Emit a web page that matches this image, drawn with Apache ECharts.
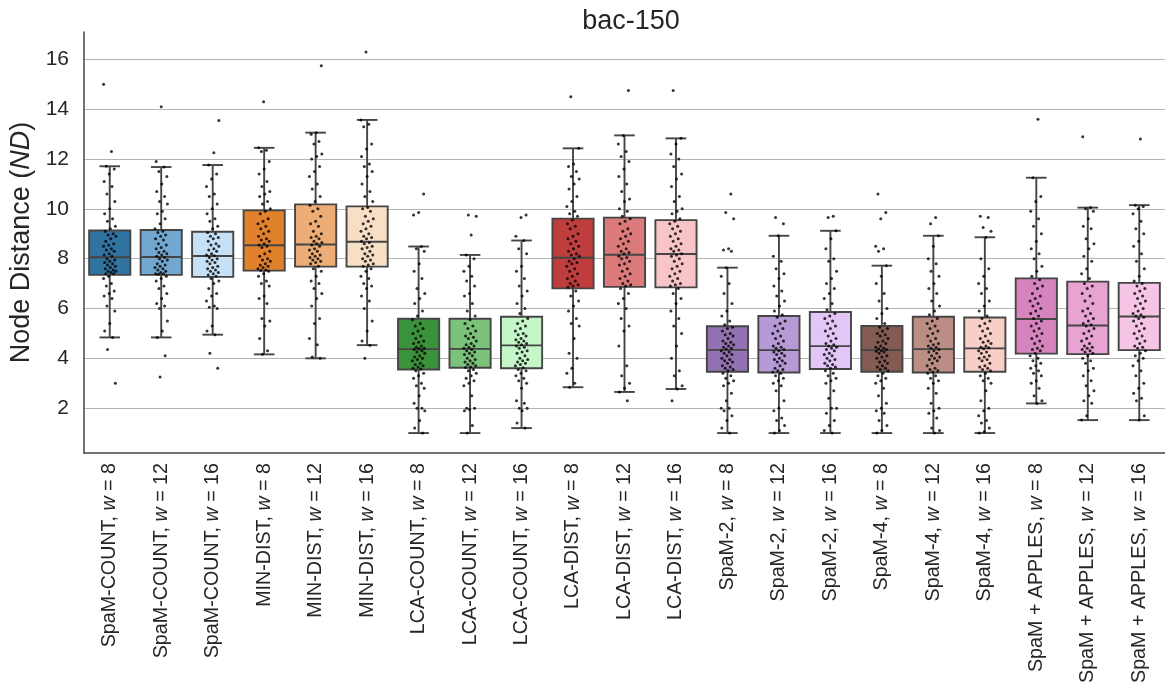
<!DOCTYPE html>
<html>
<head>
<meta charset="utf-8">
<title>bac-150</title>
<script src="https://cdn.jsdelivr.net/npm/echarts@6/dist/echarts.min.js"></script>
<style>
  html, body { margin: 0; padding: 0; background: #fff; }
  #chart { width: 1165px; height: 686px; }
</style>
</head>
<body>
<div id="chart"></div>
<script>
// categories (x axis)
const methods = [
  'SpaM-COUNT, w = 8', 'SpaM-COUNT, w = 12', 'SpaM-COUNT, w = 16',
  'MIN-DIST, w = 8', 'MIN-DIST, w = 12', 'MIN-DIST, w = 16',
  'LCA-COUNT, w = 8', 'LCA-COUNT, w = 12', 'LCA-COUNT, w = 16',
  'LCA-DIST, w = 8', 'LCA-DIST, w = 12', 'LCA-DIST, w = 16',
  'SpaM-2, w = 8', 'SpaM-2, w = 12', 'SpaM-2, w = 16',
  'SpaM-4, w = 8', 'SpaM-4, w = 12', 'SpaM-4, w = 16',
  'SpaM + APPLES, w = 8', 'SpaM + APPLES, w = 12', 'SpaM + APPLES, w = 16'
];

// box statistics
const whiskerLow  = [4.84, 4.84, 4.95, 4.16, 4.0, 4.53, 1.0, 1.0, 1.2, 2.84, 2.65, 2.77, 1.0, 1.0, 1.0, 1.0, 1.0, 1.0, 2.19, 1.52, 1.52];
const q1          = [7.35, 7.35, 7.27, 7.52, 7.68, 7.68, 3.55, 3.62, 3.6, 6.81, 6.87, 6.85, 3.46, 3.43, 3.57, 3.46, 3.43, 3.46, 4.19, 4.17, 4.33];
const median      = [8.06, 8.07, 8.11, 8.54, 8.57, 8.68, 4.37, 4.38, 4.52, 8.04, 8.16, 8.19, 4.34, 4.33, 4.49, 4.33, 4.37, 4.40, 5.58, 5.32, 5.68];
const q3          = [9.13, 9.15, 9.08, 9.94, 10.18, 10.10, 5.59, 5.59, 5.67, 9.61, 9.65, 9.55, 5.29, 5.70, 5.86, 5.30, 5.67, 5.64, 7.21, 7.08, 7.03];
const whiskerHigh = [11.71, 11.68, 11.76, 12.45, 13.06, 13.57, 8.49, 8.15, 8.73, 12.43, 12.95, 12.83, 7.64, 8.92, 9.12, 7.72, 8.92, 8.86, 11.25, 10.05, 10.15];

const boxColors = [
  '#3274a1', '#72a7d0', '#c6e1f6',
  '#e1812c', '#ecad76', '#f7dfc5',
  '#3a923a', '#7bc27a', '#c5f6c8',
  '#c03d3e', '#dc7a7b', '#f7c5c7',
  '#9372b2', '#b59ad6', '#e2c6f7',
  '#845b53', '#bc8d84', '#f7cfc7',
  '#d684bd', '#e7a4d3', '#f6c5e5'
];

const pointValues = [
  [15.0, 12.3, 11.71, 11.6, 11.4, 11.1, 10.9, 10.6, 10.3, 10.0, 9.8, 9.6, 9.5, 9.3, 9.2, 9.1, 9.0, 8.95, 8.9, 8.8, 8.7, 8.6, 8.55, 8.5, 8.4, 8.35, 8.3, 8.2, 8.15, 8.1, 8.0, 7.95, 7.9, 7.85, 7.8, 7.75, 7.7, 7.65, 7.6, 7.55, 7.5, 7.5, 7.45, 7.4, 7.4, 7.3, 7.2, 7.0, 6.9, 6.7, 6.6, 6.5, 6.4, 6.1, 5.9, 5.4, 5.1, 4.84, 4.35, 3.0],
  [14.1, 11.9, 11.68, 11.5, 11.3, 11.0, 10.7, 10.5, 10.3, 10.2, 9.9, 9.8, 9.6, 9.4, 9.2, 9.1, 9.05, 8.95, 8.9, 8.8, 8.75, 8.6, 8.55, 8.45, 8.4, 8.3, 8.25, 8.2, 8.15, 8.1, 8.05, 8.0, 7.95, 7.9, 7.8, 7.75, 7.7, 7.65, 7.6, 7.55, 7.5, 7.45, 7.4, 7.4, 7.38, 7.3, 7.2, 7.1, 6.9, 6.8, 6.6, 6.4, 6.2, 6.1, 6.0, 5.5, 5.1, 4.84, 4.1, 3.25],
  [13.55, 12.25, 11.76, 11.4, 11.2, 10.9, 10.6, 10.5, 10.2, 10.0, 9.8, 9.6, 9.5, 9.3, 9.2, 9.05, 9.0, 8.9, 8.85, 8.8, 8.7, 8.6, 8.55, 8.5, 8.4, 8.35, 8.3, 8.2, 8.15, 8.12, 8.05, 8.0, 7.95, 7.9, 7.85, 7.8, 7.7, 7.65, 7.6, 7.55, 7.5, 7.45, 7.4, 7.35, 7.3, 7.2, 7.1, 7.0, 6.8, 6.6, 6.5, 6.3, 6.1, 6.05, 6.0, 5.3, 5.1, 4.95, 4.2, 3.6],
  [14.3, 12.45, 12.35, 12.3, 11.9, 11.6, 11.4, 11.1, 10.9, 10.7, 10.6, 10.5, 10.3, 10.2, 10.0, 9.9, 9.8, 9.6, 9.5, 9.4, 9.3, 9.2, 9.1, 9.0, 8.9, 8.8, 8.75, 8.7, 8.6, 8.55, 8.5, 8.45, 8.3, 8.2, 8.1, 8.0, 7.95, 7.9, 7.8, 7.75, 7.7, 7.65, 7.6, 7.55, 7.53, 7.5, 7.4, 7.3, 7.1, 7.0, 6.9, 6.5, 6.4, 6.2, 5.6, 5.5, 5.3, 4.8, 4.3, 4.16],
  [15.75, 13.06, 13.0, 12.7, 12.6, 12.2, 12.1, 12.0, 11.7, 11.5, 11.3, 11.0, 10.8, 10.5, 10.3, 10.15, 10.0, 9.9, 9.7, 9.5, 9.4, 9.3, 9.1, 9.0, 8.9, 8.85, 8.8, 8.7, 8.65, 8.6, 8.55, 8.5, 8.4, 8.35, 8.3, 8.2, 8.15, 8.1, 8.05, 8.0, 7.95, 7.9, 7.85, 7.8, 7.7, 7.6, 7.5, 7.3, 7.1, 7.0, 6.8, 6.6, 6.4, 6.1, 5.6, 5.4, 4.8, 4.55, 4.05, 4.0],
  [16.3, 13.57, 13.4, 13.3, 12.6, 12.4, 12.1, 11.8, 11.7, 11.5, 11.3, 11.0, 10.7, 10.5, 10.3, 10.05, 10.0, 9.9, 9.7, 9.6, 9.5, 9.4, 9.3, 9.2, 9.1, 9.0, 8.9, 8.85, 8.8, 8.7, 8.65, 8.6, 8.5, 8.45, 8.4, 8.3, 8.2, 8.15, 8.1, 8.0, 7.95, 7.9, 7.8, 7.75, 7.7, 7.6, 7.5, 7.3, 7.2, 7.0, 6.9, 6.8, 6.5, 6.3, 6.0, 5.5, 5.1, 4.7, 4.53, 4.0],
  [10.6, 9.85, 9.75, 8.49, 8.4, 8.3, 7.8, 7.5, 7.2, 6.8, 6.6, 6.4, 6.2, 5.9, 5.7, 5.55, 5.4, 5.3, 5.2, 5.1, 5.0, 4.9, 4.8, 4.7, 4.65, 4.6, 4.5, 4.45, 4.4, 4.38, 4.35, 4.3, 4.25, 4.2, 4.1, 4.05, 4.0, 3.95, 3.9, 3.8, 3.75, 3.7, 3.65, 3.6, 3.57, 3.5, 3.4, 3.3, 3.2, 3.0, 2.9, 2.8, 2.5, 2.2, 2.0, 2.0, 1.9, 1.5, 1.2, 1.0],
  [9.75, 9.7, 8.95, 8.15, 8.0, 7.7, 7.5, 7.3, 7.1, 6.9, 6.6, 6.5, 6.2, 5.9, 5.7, 5.55, 5.4, 5.3, 5.2, 5.1, 5.0, 4.9, 4.85, 4.8, 4.7, 4.6, 4.55, 4.5, 4.45, 4.4, 4.35, 4.3, 4.25, 4.2, 4.15, 4.1, 4.0, 3.95, 3.9, 3.85, 3.8, 3.75, 3.7, 3.65, 3.63, 3.55, 3.5, 3.4, 3.3, 3.2, 3.1, 3.0, 2.9, 2.5, 2.0, 2.0, 1.95, 1.9, 1.3, 1.0],
  [9.75, 9.65, 8.9, 8.73, 8.4, 8.2, 7.7, 7.5, 7.2, 6.9, 6.7, 6.5, 6.2, 6.0, 5.8, 5.6, 5.5, 5.4, 5.3, 5.2, 5.1, 5.0, 4.95, 4.9, 4.8, 4.75, 4.7, 4.65, 4.6, 4.55, 4.5, 4.45, 4.4, 4.3, 4.25, 4.2, 4.1, 4.0, 3.95, 3.9, 3.85, 3.8, 3.75, 3.7, 3.62, 3.55, 3.5, 3.4, 3.3, 3.2, 3.1, 3.0, 2.8, 2.3, 2.2, 2.0, 2.0, 1.9, 1.4, 1.2],
  [14.5, 12.43, 11.8, 11.7, 11.5, 11.3, 11.2, 11.0, 10.8, 10.5, 10.3, 10.1, 9.9, 9.8, 9.7, 9.55, 9.4, 9.3, 9.2, 9.0, 8.9, 8.8, 8.7, 8.6, 8.5, 8.4, 8.3, 8.2, 8.15, 8.1, 8.0, 7.9, 7.85, 7.8, 7.7, 7.6, 7.5, 7.4, 7.3, 7.2, 7.1, 7.0, 6.95, 6.9, 6.85, 6.7, 6.5, 6.3, 6.1, 5.9, 5.6, 5.4, 5.3, 4.8, 4.2, 4.0, 3.6, 3.4, 3.0, 2.84],
  [14.75, 12.95, 12.6, 12.3, 12.1, 11.9, 11.6, 11.3, 11.0, 10.7, 10.4, 10.3, 10.0, 9.9, 9.7, 9.6, 9.5, 9.4, 9.2, 9.1, 9.0, 8.9, 8.8, 8.7, 8.6, 8.5, 8.4, 8.3, 8.25, 8.2, 8.1, 8.05, 8.0, 7.9, 7.8, 7.75, 7.6, 7.5, 7.4, 7.3, 7.2, 7.1, 7.0, 6.95, 6.9, 6.8, 6.6, 6.4, 6.2, 6.0, 5.6, 5.3, 5.1, 4.5, 3.7, 3.3, 3.0, 2.8, 2.65, 2.3],
  [14.75, 12.83, 12.6, 12.2, 12.0, 11.7, 11.4, 11.2, 10.9, 10.5, 10.3, 10.0, 9.9, 9.8, 9.6, 9.5, 9.4, 9.3, 9.2, 9.1, 9.0, 8.9, 8.8, 8.7, 8.6, 8.5, 8.4, 8.35, 8.3, 8.2, 8.15, 8.1, 8.0, 7.9, 7.8, 7.7, 7.6, 7.5, 7.4, 7.3, 7.2, 7.1, 7.0, 6.95, 6.9, 6.8, 6.6, 6.4, 6.2, 5.9, 5.6, 5.3, 5.0, 4.5, 4.0, 3.5, 3.3, 2.9, 2.77, 2.3],
  [10.6, 9.85, 9.6, 8.4, 8.35, 8.3, 7.64, 7.3, 7.0, 6.6, 6.2, 5.9, 5.7, 5.5, 5.35, 5.25, 5.2, 5.1, 5.0, 4.95, 4.9, 4.8, 4.7, 4.65, 4.6, 4.55, 4.5, 4.45, 4.4, 4.36, 4.3, 4.25, 4.2, 4.15, 4.1, 4.0, 3.95, 3.9, 3.85, 3.8, 3.7, 3.65, 3.6, 3.55, 3.5, 3.4, 3.3, 3.2, 3.1, 3.0, 2.9, 2.6, 2.3, 2.0, 2.0, 1.9, 1.7, 1.5, 1.2, 1.0],
  [9.65, 9.4, 8.92, 8.1, 7.9, 7.6, 7.4, 7.2, 6.9, 6.7, 6.5, 6.3, 6.1, 5.9, 5.75, 5.65, 5.5, 5.4, 5.3, 5.2, 5.1, 5.0, 4.9, 4.8, 4.7, 4.6, 4.5, 4.45, 4.4, 4.35, 4.3, 4.25, 4.2, 4.15, 4.1, 4.0, 3.95, 3.9, 3.85, 3.8, 3.7, 3.6, 3.55, 3.5, 3.45, 3.4, 3.3, 3.2, 3.1, 3.0, 2.9, 2.7, 2.3, 2.0, 1.9, 1.6, 1.5, 1.3, 1.1, 1.0],
  [9.7, 9.65, 9.12, 8.8, 8.4, 8.0, 7.9, 7.5, 7.2, 7.0, 6.8, 6.6, 6.4, 6.2, 5.95, 5.8, 5.7, 5.6, 5.5, 5.4, 5.3, 5.2, 5.1, 5.0, 4.9, 4.8, 4.7, 4.6, 4.55, 4.5, 4.45, 4.4, 4.35, 4.3, 4.2, 4.15, 4.1, 4.0, 3.95, 3.9, 3.8, 3.75, 3.7, 3.65, 3.6, 3.5, 3.4, 3.3, 3.2, 3.1, 3.0, 2.7, 2.4, 2.0, 2.0, 1.8, 1.5, 1.3, 1.1, 1.0],
  [10.6, 9.85, 9.6, 8.5, 8.4, 8.3, 7.72, 7.3, 7.0, 6.6, 6.3, 6.0, 5.8, 5.6, 5.4, 5.25, 5.2, 5.1, 5.0, 4.95, 4.9, 4.8, 4.7, 4.65, 4.6, 4.5, 4.45, 4.4, 4.38, 4.35, 4.3, 4.28, 4.25, 4.2, 4.1, 4.05, 4.0, 3.9, 3.85, 3.8, 3.7, 3.65, 3.6, 3.55, 3.5, 3.4, 3.3, 3.2, 3.1, 3.0, 2.8, 2.5, 2.2, 2.0, 1.9, 1.8, 1.5, 1.3, 1.1, 1.0],
  [9.65, 9.4, 8.92, 8.5, 8.0, 7.8, 7.5, 7.3, 7.0, 6.8, 6.6, 6.3, 6.1, 5.9, 5.75, 5.6, 5.5, 5.4, 5.3, 5.2, 5.1, 5.0, 4.9, 4.8, 4.7, 4.6, 4.55, 4.5, 4.45, 4.4, 4.35, 4.3, 4.25, 4.2, 4.1, 4.05, 4.0, 3.95, 3.9, 3.8, 3.7, 3.6, 3.55, 3.5, 3.45, 3.4, 3.3, 3.2, 3.1, 3.0, 2.8, 2.6, 2.2, 2.0, 1.9, 1.8, 1.6, 1.2, 1.1, 1.0],
  [9.7, 9.65, 9.25, 9.1, 8.86, 8.0, 7.6, 7.3, 7.0, 6.8, 6.6, 6.3, 6.1, 5.9, 5.7, 5.6, 5.5, 5.4, 5.3, 5.2, 5.1, 5.0, 4.9, 4.8, 4.7, 4.65, 4.6, 4.5, 4.45, 4.42, 4.38, 4.3, 4.25, 4.2, 4.1, 4.05, 4.0, 3.95, 3.9, 3.8, 3.7, 3.65, 3.6, 3.55, 3.5, 3.4, 3.3, 3.2, 3.1, 3.0, 2.7, 2.3, 2.0, 1.9, 1.7, 1.5, 1.4, 1.2, 1.05, 1.0],
  [13.6, 11.25, 10.5, 10.3, 9.9, 9.6, 9.3, 9.0, 8.7, 8.4, 8.2, 8.0, 7.7, 7.5, 7.3, 7.15, 7.0, 6.9, 6.8, 6.6, 6.5, 6.4, 6.3, 6.2, 6.1, 6.0, 5.9, 5.8, 5.7, 5.6, 5.5, 5.4, 5.3, 5.2, 5.1, 5.0, 4.9, 4.8, 4.7, 4.6, 4.5, 4.4, 4.35, 4.3, 4.2, 4.1, 4.0, 3.9, 3.8, 3.7, 3.6, 3.5, 3.4, 3.3, 3.1, 3.0, 2.8, 2.5, 2.3, 2.19],
  [12.9, 10.05, 10.0, 9.9, 9.6, 9.3, 9.2, 8.8, 8.6, 8.4, 8.1, 7.9, 7.6, 7.4, 7.2, 7.0, 6.9, 6.8, 6.6, 6.5, 6.3, 6.2, 6.0, 5.9, 5.8, 5.7, 5.6, 5.5, 5.4, 5.35, 5.3, 5.2, 5.1, 5.0, 4.9, 4.8, 4.7, 4.6, 4.5, 4.45, 4.4, 4.35, 4.3, 4.25, 4.2, 4.1, 4.0, 3.9, 3.8, 3.6, 3.5, 3.3, 3.1, 2.9, 2.7, 2.5, 2.3, 2.2, 1.7, 1.52],
  [12.8, 10.15, 10.1, 10.0, 9.8, 9.5, 9.2, 9.0, 8.7, 8.5, 8.2, 7.9, 7.6, 7.3, 7.1, 7.0, 6.9, 6.8, 6.7, 6.6, 6.5, 6.4, 6.3, 6.2, 6.1, 6.0, 5.9, 5.8, 5.75, 5.7, 5.65, 5.6, 5.5, 5.4, 5.3, 5.2, 5.1, 5.0, 4.9, 4.8, 4.7, 4.6, 4.5, 4.45, 4.4, 4.3, 4.2, 4.1, 4.0, 3.9, 3.7, 3.5, 3.3, 3.0, 2.8, 2.6, 2.4, 2.3, 1.7, 1.52]
];

const FONT = "'Liberation Sans', Arial, sans-serif";
const TEXT = '#262626';
const EDGE = '#454545';

const chart = echarts.init(document.getElementById('chart'));

// box rows: [index, low, q1, median, q3, high]
const boxData = methods.map((m, i) => [i, whiskerLow[i], q1[i], median[i], q3[i], whiskerHigh[i]]);

// strip plot: small fixed horizontal spread around each category
const stripData = [];
pointValues.forEach((vals, c) => {
  vals.forEach((v, i) => {
    const jit = (((i * 37 + c * 11) % 23) / 22 - 0.5) * 0.24;
    stripData.push([c + jit, v]);
  });
});

function renderBox(params, api) {
  const x = api.value(0);
  const pLow = api.coord([x, api.value(1)]);
  const pQ1 = api.coord([x, api.value(2)]);
  const pMed = api.coord([x, api.value(3)]);
  const pQ3 = api.coord([x, api.value(4)]);
  const pHigh = api.coord([x, api.value(5)]);
  const w = api.size([1, 0])[0] * 0.8;
  const cx = pMed[0];
  const line = { stroke: EDGE, lineWidth: 1.9 };
  return {
    type: 'group',
    children: [
      { type: 'line', shape: { x1: cx, y1: pQ3[1], x2: cx, y2: pHigh[1] }, style: line },
      { type: 'line', shape: { x1: cx, y1: pQ1[1], x2: cx, y2: pLow[1] }, style: line },
      { type: 'line', shape: { x1: cx - w / 4, y1: pHigh[1], x2: cx + w / 4, y2: pHigh[1] }, style: line },
      { type: 'line', shape: { x1: cx - w / 4, y1: pLow[1], x2: cx + w / 4, y2: pLow[1] }, style: line },
      {
        type: 'rect',
        shape: { x: cx - w / 2, y: pQ3[1], width: w, height: pQ1[1] - pQ3[1] },
        style: { fill: boxColors[params.dataIndex], stroke: EDGE, lineWidth: 1.9 }
      },
      { type: 'line', shape: { x1: cx - w / 2, y1: pMed[1], x2: cx + w / 2, y2: pMed[1] }, style: line }
    ]
  };
}

const option = {
  animation: false,
  backgroundColor: '#fff',
  textStyle: { fontFamily: FONT },
  title: {
    text: 'bac-150',
    left: 626,
    top: 3,
    textAlign: 'center',
    textStyle: { fontFamily: FONT, fontSize: 27, fontWeight: 'normal', color: TEXT }
  },
  grid: { left: 84, right: 0, top: 32, bottom: 233, outerBoundsMode: 'none' },
  xAxis: [
    {
      type: 'category',
      data: methods,
      axisTick: { show: false },
      axisLine: { show: true, onZero: false, lineStyle: { color: '#444', width: 1.5 } },
      splitLine: { show: false },
      axisLabel: {
        rotate: 90,
        margin: 10,
        interval: 0,
        fontSize: 19.7,
        fontFamily: FONT,
        color: TEXT,
        formatter: (v) => v.replace(', w = ', ', {i|w} = '),
        rich: { i: { fontStyle: 'italic', fontSize: 19.7, fontFamily: FONT, color: TEXT } }
      }
    },
    { type: 'value', min: -0.5, max: 20.5, show: false }
  ],
  yAxis: {
    type: 'value',
    min: 0.2,
    max: 17.1,
    splitNumber: 8,
    minInterval: 2,
    maxInterval: 2,
    name: 'Node Distance ({i|ND})',
    nameLocation: 'middle',
    nameGap: 46,
    nameTextStyle: {
      fontFamily: FONT, fontSize: 27, color: TEXT,
      rich: { i: { fontStyle: 'italic', fontSize: 27, fontFamily: FONT, color: TEXT } }
    },
    axisLine: { show: true, onZero: false, lineStyle: { color: '#444', width: 1.5 } },
    axisTick: { show: false },
    axisLabel: {
      fontSize: 21, fontFamily: FONT, color: TEXT, margin: 15,
      showMinLabel: false, showMaxLabel: false
    },
    splitLine: {
      show: true, showMinLine: false, showMaxLine: false,
      lineStyle: { color: '#b4b4b4', width: 1.2 }
    }
  },
  series: [
    {
      type: 'custom',
      xAxisIndex: 0,
      renderItem: renderBox,
      encode: { x: 0, y: [1, 2, 3, 4, 5] },
      data: boxData,
      z: 2,
      silent: true
    },
    {
      type: 'scatter',
      xAxisIndex: 1,
      data: stripData,
      symbol: 'circle',
      symbolSize: 3,
      itemStyle: { color: '#000' },
      z: 3,
      silent: true
    }
  ]
};

chart.setOption(option);
</script>
</body>
</html>
